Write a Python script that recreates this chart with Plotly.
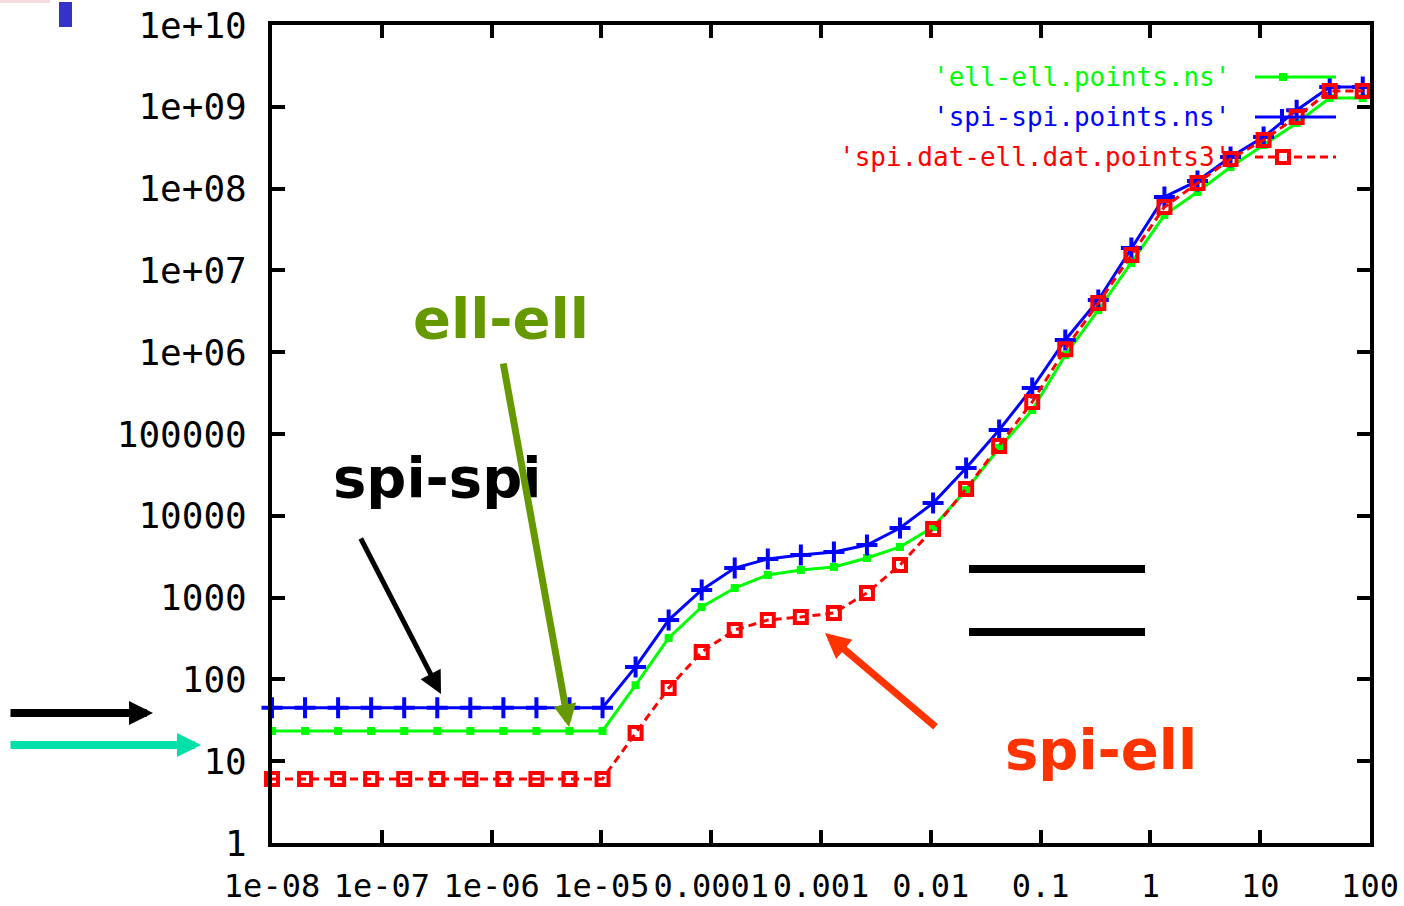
import plotly.graph_objects as go

# ---------------- data ----------------
x_vals = [1e-8, 2e-8, 4e-8, 8e-8, 1.6e-7, 3.2e-7, 6.4e-7, 1.28e-6, 2.56e-6, 5.12e-6,
          1.024e-5, 2.048e-5, 4.096e-5, 8.192e-5, 1.638e-4, 3.277e-4, 6.554e-4,
          1.311e-3, 2.621e-3, 5.243e-3, 1.049e-2, 2.097e-2, 4.194e-2, 8.389e-2,
          0.1678, 0.3355, 0.6711, 1.342, 2.684, 5.369, 10.74, 21.47, 42.95, 85.9]

ell_ell = [23.4, 23.4, 23.4, 23.4, 23.4, 23.4, 23.4, 23.4, 23.4, 23.4, 23.4,
           85, 321, 768, 1310, 1890, 2180, 2370, 3050, 4160, 7300, 20700, 67400,
           196000, 9.2e5, 3.28e6, 1.23e7, 4.75e7, 9.1e7, 1.84e8, 3.41e8, 6.34e8,
           1.28e9, 1.28e9]

spi_spi = [45, 45, 45, 45, 45, 45, 45, 45, 45, 45, 45,
           142, 532, 1240, 2300, 2970, 3320, 3610, 4400, 7100, 14300, 38400, 112000,
           365000, 1.41e6, 4.35e6, 1.88e7, 7.9e7, 1.24e8, 2.43e8, 4.27e8, 9.1e8,
           1.75e9, 1.75e9]

spi_ell = [6.06, 6.06, 6.06, 6.06, 6.06, 6.06, 6.06, 6.06, 6.06, 6.06, 6.06,
           22.1, 78.5, 216, 402, 532, 579, 648, 1140, 2500, 6900, 21300, 71300,
           246000, 1.09e6, 4.0e6, 1.54e7, 5.96e7, 1.17e8, 2.30e8, 3.93e8, 7.5e8,
           1.56e9, 1.56e9]

series_names = ["'ell-ell.points.ns'", "'spi-spi.points.ns'", "'spi.dat-ell.dat.points3'"]

x_tickvals = [1e-8, 1e-7, 1e-6, 1e-5, 1e-4, 1e-3, 1e-2, 1e-1, 1, 10, 100]
x_ticktext = ["1e-08", "1e-07", "1e-06", "1e-05", "0.0001", "0.001", "0.01",
              "0.1", "1", "10", "100"]
y_tickvals = [1, 10, 100, 1000, 1e4, 1e5, 1e6, 1e7, 1e8, 1e9, 1e10]
y_ticktext = ["1", "10", "100", "1000", "10000", "100000", "1e+06", "1e+07",
              "1e+08", "1e+09", "1e+10"]

# ---------------- layout geometry ----------------
W, H = 1404, 906
L, R, T, B = 272, 1370, 25, 843


def px(x):
    return (x - L) / (R - L)


def py(y):
    return (B - y) / (B - T)


fig = go.Figure()

fig.add_trace(go.Scatter(
    x=x_vals, y=ell_ell, mode="lines+markers", name=series_names[0],
    line=dict(color="#00FF00", width=3),
    marker=dict(symbol="square", size=8, color="#00FF00"),
    cliponaxis=False, showlegend=False))

fig.add_trace(go.Scatter(
    x=x_vals, y=spi_spi, mode="lines+markers", name=series_names[1],
    line=dict(color="#0000FF", width=3),
    marker=dict(symbol="cross-thin", size=15, line=dict(color="#0000FF", width=4)),
    cliponaxis=False, showlegend=False))

fig.add_trace(go.Scatter(
    x=x_vals, y=spi_ell, mode="lines+markers", name=series_names[2],
    line=dict(color="#FF0000", width=3, dash="8px,5px"),
    marker=dict(symbol="square-open", size=12, line=dict(color="#FF0000", width=4)),
    cliponaxis=False, showlegend=False))

axis_common = dict(
    type="log", showgrid=False, zeroline=False, automargin=False,
    showline=True, linecolor="black", linewidth=4, mirror="ticks",
    ticks="inside", ticklen=13, tickwidth=4, tickcolor="black",
    tickmode="array",
)

fig.update_xaxes(**axis_common, range=[-8, 2], tickvals=x_tickvals, ticktext=x_ticktext,
                 tickangle=0, ticklabelstandoff=12,
                 tickfont=dict(family="DejaVu Sans Mono", size=32, color="black"))
fig.update_yaxes(**axis_common, range=[0, 10], tickvals=y_tickvals, ticktext=y_ticktext,
                 ticklabelstandoff=14,
                 tickfont=dict(family="DejaVu Sans Mono", size=36, color="black"))

shapes = []
annotations = []

# ---- gnuplot-style key (text left of sample) ----
key_rows = [(77, "#00FF00", series_names[0]),
            (117, "#0000FF", series_names[1]),
            (157, "#FF0000", series_names[2])]
for yk, col, txt in key_rows:
    annotations.append(dict(x=px(1232), y=py(yk), xref="paper", yref="paper",
                            text=txt, showarrow=False, xanchor="right", yanchor="middle",
                            font=dict(family="DejaVu Sans Mono", size=26, color=col)))
# sample lines
shapes.append(dict(type="line", xref="paper", yref="paper", x0=px(1255), x1=px(1336),
                   y0=py(77), y1=py(77), line=dict(color="#00FF00", width=3)))
shapes.append(dict(type="line", xref="paper", yref="paper", x0=px(1255), x1=px(1336),
                   y0=py(117), y1=py(117), line=dict(color="#0000FF", width=3)))
shapes.append(dict(type="line", xref="paper", yref="paper", x0=px(1255), x1=px(1336),
                   y0=py(157), y1=py(157), line=dict(color="#FF0000", width=3, dash="8px,5px")))
# sample markers
shapes.append(dict(type="rect", xref="paper", yref="paper", x0=px(1279), x1=px(1287),
                   y0=py(73), y1=py(81), fillcolor="#00FF00", line=dict(width=0)))
shapes.append(dict(type="line", xref="paper", yref="paper", x0=px(1282), x1=px(1282),
                   y0=py(109), y1=py(125), line=dict(color="#0000FF", width=4)))
shapes.append(dict(type="rect", xref="paper", yref="paper", x0=px(1277), x1=px(1289),
                   y0=py(151), y1=py(163), fillcolor="white", line=dict(color="#FF0000", width=4)))

# ---- overlay text labels ----
annotations.append(dict(x=px(411), y=py(318), xref="paper", yref="paper", text="<b>ell-ell</b>",
                        showarrow=False, xanchor="left", yanchor="middle",
                        font=dict(family="DejaVu Sans", size=56, color="#669900")))
annotations.append(dict(x=px(331), y=py(477), xref="paper", yref="paper", text="<b>spi-spi</b>",
                        showarrow=False, xanchor="left", yanchor="middle",
                        font=dict(family="DejaVu Sans", size=56, color="black")))
annotations.append(dict(x=px(1003), y=py(749), xref="paper", yref="paper", text="<b>spi-ell</b>",
                        showarrow=False, xanchor="left", yanchor="middle",
                        font=dict(family="DejaVu Sans", size=56, color="#FF3300")))


# ---- arrows ----
def arrow(tail, tip, color, width, size):
    annotations.append(dict(x=px(tip[0]), y=py(tip[1]), xref="paper", yref="paper",
                            ax=tail[0] - tip[0], ay=tail[1] - tip[1], axref="pixel", ayref="pixel",
                            text="", showarrow=True, arrowhead=2, arrowsize=size,
                            arrowwidth=width, arrowcolor=color, standoff=0))


arrow((360, 537), (441, 694), "black", 5, 0.9)
arrow((503, 362), (569, 727), "#669900", 7, 0.65)
arrow((937, 728), (825, 633), "#FF3300", 7, 0.72)
arrow((9, 713), (153, 713), "black", 8, 0.6)
arrow((9, 745), (201, 745), "#00E0A8", 8, 0.6)

# ---- decorative bars ----
shapes.append(dict(type="line", xref="paper", yref="paper", x0=px(969), x1=px(1145),
                   y0=py(569), y1=py(569), line=dict(color="black", width=8)))
shapes.append(dict(type="line", xref="paper", yref="paper", x0=px(969), x1=px(1145),
                   y0=py(632), y1=py(632), line=dict(color="black", width=8)))
shapes.append(dict(type="rect", xref="paper", yref="paper", x0=px(59), x1=px(72),
                   y0=py(27), y1=py(2), fillcolor="#3333CC", line=dict(width=0)))
shapes.append(dict(type="rect", xref="paper", yref="paper", x0=px(0), x1=px(50),
                   y0=py(3), y1=py(0), fillcolor="#F7DCE0", line=dict(width=0)))

fig.update_layout(
    width=W, height=H,
    margin=dict(l=L, r=W - R, t=T, b=H - B, pad=0, autoexpand=False),
    paper_bgcolor="white", plot_bgcolor="white",
    showlegend=False,
    shapes=shapes, annotations=annotations,
)

fig.write_html(
    "out.html",
    config={"displayModeBar": False},
    post_script="document.body.style.margin='0';document.body.style.overflow='hidden';",
)
